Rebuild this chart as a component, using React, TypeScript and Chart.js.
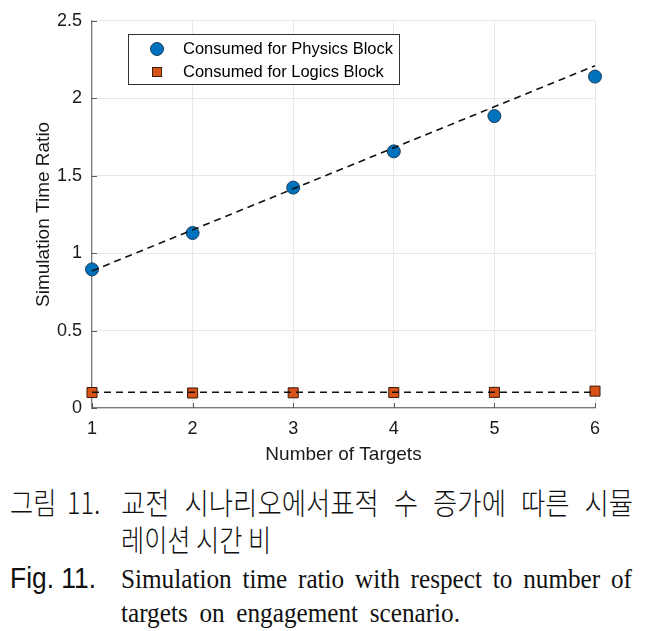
import React, { useEffect, useRef } from "react";
import { Chart, registerables } from "chart.js";

Chart.register(...registerables);

const targets = [1, 2, 3, 4, 5, 6];
const physicsRatio = [0.895, 1.13, 1.423, 1.657, 1.885, 2.14];
const logicsRatio = [0.1, 0.097, 0.098, 0.1, 0.101, 0.109];
const fitX = [1, 6];
const physicsFit = [0.885, 2.21];
const logicsFit = [0.102, 0.102];
const xTicks = [1, 2, 3, 4, 5, 6];
const yTicks = [0, 0.5, 1, 1.5, 2, 2.5];
const seriesLabels = ["Consumed for Physics Block", "Consumed for Logics Block"];

const BLUE = "#0072BD";
const ORANGE = "#D95319";
const SANS = "Arial, 'Liberation Sans', Helvetica, sans-serif";

const pts = (xs: number[], ys: number[]) => xs.map((x, i) => ({ x, y: ys[i] }));

const tickAndLegendPlugin = {
  id: "matlabDecor",
  afterDraw(chart: any) {
    const { ctx, chartArea, scales } = chart;
    const xs = scales.x;
    const ys = scales.y;
    ctx.save();
    ctx.strokeStyle = "#5a5a5a";
    ctx.lineWidth = 1;
    ctx.beginPath();
    xTicks.forEach((t) => {
      const px = Math.round(xs.getPixelForValue(t)) + 0.5;
      ctx.moveTo(px, chartArea.bottom);
      ctx.lineTo(px, chartArea.bottom - 5);
    });
    yTicks.forEach((t) => {
      const py = Math.round(ys.getPixelForValue(t)) + 0.5;
      ctx.moveTo(chartArea.left, py);
      ctx.lineTo(chartArea.left + 5, py);
    });
    ctx.stroke();

    const bx = 128.5, by = 34.5, bw = 271, bh = 50;
    ctx.fillStyle = "#ffffff";
    ctx.fillRect(bx, by, bw, bh);
    ctx.strokeStyle = "#333333";
    ctx.lineWidth = 1;
    ctx.strokeRect(bx, by, bw, bh);

    const rows = [49, 72];
    ctx.beginPath();
    ctx.arc(157, rows[0], 6.5, 0, Math.PI * 2);
    ctx.fillStyle = BLUE;
    ctx.fill();
    ctx.strokeStyle = "#1b3c5c";
    ctx.stroke();
    ctx.fillStyle = ORANGE;
    ctx.fillRect(152, rows[1] - 5, 10, 10);
    ctx.strokeStyle = "#3a1a0a";
    ctx.strokeRect(152.5, rows[1] - 4.5, 9, 9);

    ctx.fillStyle = "#000000";
    ctx.font = `16.5px ${SANS}`;
    ctx.textBaseline = "middle";
    ctx.textAlign = "left";
    ctx.fillText(seriesLabels[0], 183, rows[0]);
    ctx.fillText(seriesLabels[1], 183, rows[1]);
    ctx.restore();
  },
};

function ChartView() {
  const ref = useRef<HTMLCanvasElement | null>(null);
  useEffect(() => {
    if (!ref.current) return;
    const chart = new Chart(ref.current, {
      type: "scatter",
      data: {
        datasets: [
          {
            label: "Physics fit",
            data: pts(fitX, physicsFit),
            showLine: true,
            borderColor: "#111111",
            borderWidth: 1.6,
            borderDash: [7, 5],
            pointRadius: 0,
            order: 0,
            clip: false,
          },
          {
            label: "Logics fit",
            data: pts(fitX, logicsFit),
            showLine: true,
            borderColor: "#111111",
            borderWidth: 1.6,
            borderDash: [7, 5],
            pointRadius: 0,
            order: 0,
            clip: false,
          },
          {
            label: seriesLabels[0],
            data: pts(targets, physicsRatio),
            pointStyle: "circle",
            pointRadius: 6.5,
            pointBackgroundColor: BLUE,
            pointBorderColor: "#1b3c5c",
            pointBorderWidth: 1,
            order: 1,
            clip: false,
          },
          {
            label: seriesLabels[1],
            data: pts(targets, logicsRatio),
            pointStyle: "rect",
            pointRadius: 7.1,
            pointBackgroundColor: ORANGE,
            pointBorderColor: "#3a1a0a",
            pointBorderWidth: 1,
            order: 1,
            clip: false,
          },
        ],
      },
      options: {
        responsive: false,
        animation: false,
        devicePixelRatio: 1,
        layout: { padding: { top: 17, right: 57, left: 0, bottom: 0 } },
        plugins: { legend: { display: false }, tooltip: { enabled: false } },
        scales: {
          x: {
            type: "linear",
            min: 1,
            max: 6,
            afterBuildTicks: (s: any) => {
              s.ticks = xTicks.map((v) => ({ value: v }));
            },
            afterFit: (s: any) => {
              s.height = 62;
            },
            ticks: {
              padding: 10,
              color: "#1a1a1a",
              font: { family: SANS, size: 18 },
              callback: (v: any) => String(v),
            },
            grid: { color: "#e8e8e8", drawTicks: false, lineWidth: 1 },
            border: { color: "#7a7a7a", width: 1.2 },
            title: {
              display: true,
              text: "Number of Targets",
              color: "#1a1a1a",
              font: { family: SANS, size: 19 },
              padding: { top: 0, bottom: 4 },
            },
          },
          y: {
            type: "linear",
            min: 0,
            max: 2.5,
            afterBuildTicks: (s: any) => {
              s.ticks = yTicks.map((v) => ({ value: v }));
            },
            afterFit: (s: any) => {
              s.width = 92;
            },
            ticks: {
              padding: 10,
              color: "#1a1a1a",
              font: { family: SANS, size: 18 },
              callback: (v: any) => String(+v),
            },
            grid: { color: "#e8e8e8", drawTicks: false, lineWidth: 1 },
            border: { color: "#7a7a7a", width: 1.2 },
            title: {
              display: true,
              text: "Simulation Time Ratio",
              color: "#1a1a1a",
              font: { family: SANS, size: 19 },
              padding: { top: 32, bottom: 0 },
            },
          },
        },
      },
      plugins: [tickAndLegendPlugin],
    } as any);
    return () => chart.destroy();
  }, []);
  return <canvas ref={ref} width={652} height={470} style={{ position: "absolute", left: 0, top: 0, width: 652, height: 470 }} />;
}

const KR = "'Noto Sans CJK KR', sans-serif";
const SERIF = "'Liberation Serif', 'Times New Roman', serif";

export default function App() {
  const scaledLine = (
    text: string,
    top: number,
    left: number,
    width: number,
    font: string,
    size: number,
    sx: number,
    justify: boolean,
    extra: React.CSSProperties = {}
  ) => (
    <div
      style={{
        position: "absolute",
        top,
        left,
        width: width / sx,
        fontFamily: font,
        fontSize: size,
        lineHeight: `${size}px`,
        color: "#111",
        fontWeight: 300,
        whiteSpace: justify ? "normal" : "nowrap",
        textAlign: justify ? "justify" : "left",
        textAlignLast: justify ? "justify" : "left",
        transform: `scaleX(${sx})`,
        transformOrigin: "0 0",
        ...extra,
      } as React.CSSProperties}
    >
      {text}
    </div>
  );
  return (
    <div style={{ position: "fixed", left: 0, top: 0, width: 652, height: 631, background: "#fff", overflow: "hidden" }}>
      <ChartView />
      {scaledLine("그림 11.", 486, 10, 100, KR, 30, 0.84, false, { wordSpacing: "6px" })}
      {scaledLine("교전 시나리오에서표적 수 증가에 따른 시뮬", 486, 121, 512, KR, 30, 0.88, true)}
      {scaledLine("레이션 시간 비", 523, 121, 250, KR, 30, 0.84, false)}
      {scaledLine("Fig. 11.", 563, 10, 100, SANS, 30, 0.88, false, { fontWeight: 400 })}
      {scaledLine("Simulation time ratio with respect to number of", 565, 121, 511, SERIF, 28, 0.9, true, { fontWeight: 400 })}
      {scaledLine("targets on engagement scenario.", 599, 121, 400, SERIF, 28, 0.9, false, { wordSpacing: "6px", fontWeight: 400 })}
    </div>
  );
}
